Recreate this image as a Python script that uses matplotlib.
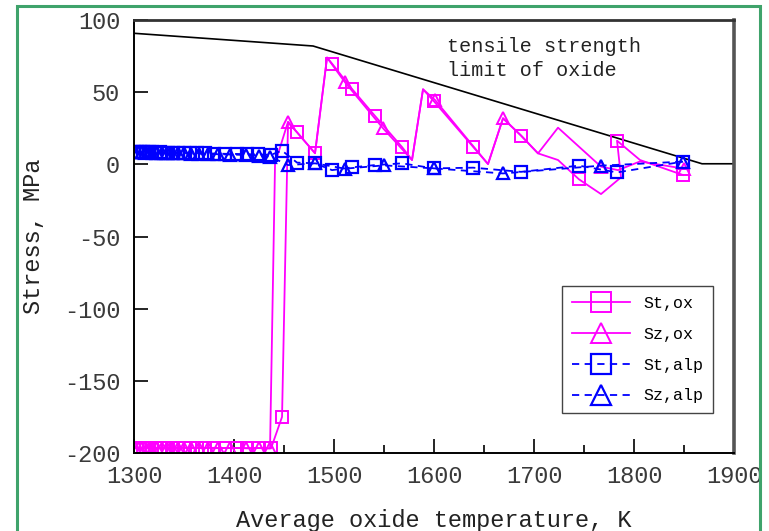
#!/usr/bin/env python
# -*- coding: utf-8 -*-

"""
Stress in the oxide layer vs average oxide temperature
"""

import matplotlib
matplotlib.use('Agg')
import matplotlib.pyplot as plt
from matplotlib.patches import Rectangle
from matplotlib.ticker import MultipleLocator

plt.rcParams['font.family'] = ['Liberation Mono', 'DejaVu Sans Mono']
plt.rcParams['axes.unicode_minus'] = False

# ---- data ----
# tensile strength limit of oxide
limit_T = [1300, 1479, 1868, 1900]
limit_S = [90.8, 82.0, 0.4, 0.4]

# St,ox  (hoop stress in oxide)
st_ox_T = [1300, 1303, 1306, 1309, 1312, 1315, 1318, 1322, 1326, 1330, 1334, 1339,
           1344, 1350, 1356, 1363, 1371, 1380, 1391, 1403, 1413, 1424, 1437,
           1448, 1454, 1463, 1481, 1493, 1498, 1518, 1541, 1568, 1578, 1589, 1600,
           1639, 1654, 1669, 1687, 1704, 1724, 1745, 1767, 1787, 1783, 1806, 1849]
st_ox_S = [-196.3, -196.4, -196.2, -196.5, -196.3, -196.4, -196.2, -196.5, -196.3,
           -196.4, -196.2, -196.5, -196.3, -196.4, -196.6, -196.3, -196.5, -196.4,
           -196.6, -196.5, -196.7, -196.6, -196.8,
           -175.0, 29.0, 22.2, 7.7, 74.0, 69.8, 52.2, 33.5, 12.0, 3.0, 52.0, 43.6,
           12.2, 0.2, 31.9, 19.9, 7.6, 3.0, -10.4, -20.6, -9.0, 16.4, 3.0, -7.4]
st_ox_plain = [1454, 1493, 1578, 1589, 1654, 1669, 1704, 1724, 1767, 1787, 1806]

# Sz,ox  (axial stress in oxide)
sz_ox_T = [1301, 1304, 1308, 1311, 1315, 1319, 1323, 1328, 1333, 1338, 1344, 1350,
           1357, 1365, 1374, 1384, 1396, 1412, 1425, 1436,
           1441, 1454, 1463, 1481, 1493, 1511, 1549, 1578, 1589, 1601, 1654, 1669,
           1687, 1704, 1724, 1767, 1784, 1806, 1850]
sz_ox_S = [-196.5, -196.3, -196.6, -196.4, -196.5, -196.3, -196.6, -196.4, -196.5,
           -196.3, -196.6, -196.4, -196.5, -196.6, -196.4, -196.7, -196.5, -196.7,
           -196.6, -196.8,
           0.5, 29.5, 22.2, 7.7, 74.0, 56.8, 25.0, 3.0, 52.0, 44.6, 0.2, 31.9,
           20.0, 7.6, 25.4, -1.6, -4.0, 2.0, -3.0]
sz_ox_plain = [1441, 1463, 1481, 1493, 1578, 1589, 1654, 1687, 1704, 1724, 1784, 1806]

# St,alp (hoop stress in alpha layer)
st_alp_T = st_ox_T[:23] + [1448, 1463, 1481, 1498, 1518, 1541, 1568, 1600, 1639,
                           1687, 1745, 1783, 1849]
st_alp_S = [8.6, 8.5, 8.6, 8.4, 8.5, 8.3, 8.4, 8.2, 8.3, 8.1, 8.2, 8.0, 7.9, 7.9,
            7.8, 7.7, 7.6, 7.5, 7.3, 7.2, 7.0, 6.9, 6.6,
            9.5, 1.2, 0.7, -4.0, -2.1, -0.5, 0.7, -2.8, -2.3, -5.2, -0.9, -5.6, 1.9]

# Sz,alp (axial stress in alpha layer)
sz_alp_T = sz_ox_T[:20] + [1454, 1481, 1511, 1550, 1600, 1669, 1767, 1849]
sz_alp_S = [8.4, 8.3, 8.4, 8.2, 8.3, 8.1, 8.2, 8.0, 7.9, 7.8, 7.8, 7.7, 7.5, 7.4,
            7.2, 7.0, 6.8, 6.5, 6.0, 5.4,
            -0.5, 0.7, -3.0, -0.7, -2.8, -6.3, -0.9, 1.9]

x_ticks = [1300, 1400, 1500, 1600, 1700, 1800, 1900]
y_ticks = [100, 50, 0, -50, -100, -150, -200]

MAGENTA = '#ff00ff'
BLUE = '#0000ff'


def marked(T, plain):
    """indices of the points that carry a marker"""
    return [i for i, t in enumerate(T) if t not in plain]


fig = plt.figure(figsize=(7.69, 5.31), dpi=100)
ax = fig.add_axes([0.1743, 0.1469, 0.7802, 0.8154])

# green frame round the picture
fig.patches.append(Rectangle((0.022, -0.05), 0.966, 1.038, transform=fig.transFigure,
                             fill=False, edgecolor='#3fa36b', linewidth=2.2, clip_on=False))

ax.plot(limit_T, limit_S, color='black', linewidth=1.2)

ax.plot(st_ox_T, st_ox_S, color=MAGENTA, linewidth=1.3, marker='s', markersize=9,
        markerfacecolor='none', markeredgewidth=1.4,
        markevery=marked(st_ox_T, st_ox_plain), label='St,ox')
ax.plot(sz_ox_T, sz_ox_S, color=MAGENTA, linewidth=1.3, marker='^', markersize=9,
        markerfacecolor='none', markeredgewidth=1.4,
        markevery=marked(sz_ox_T, sz_ox_plain), label='Sz,ox')
ax.plot(st_alp_T, st_alp_S, color=BLUE, linewidth=1.3, linestyle=(0, (4, 3)),
        marker='s', markersize=9, markerfacecolor='none', markeredgewidth=1.6,
        label='St,alp')
ax.plot(sz_alp_T, sz_alp_S, color=BLUE, linewidth=1.3, linestyle=(0, (4, 3)),
        marker='^', markersize=9, markerfacecolor='none', markeredgewidth=1.6,
        label='Sz,alp')

ax.text(1613, 73.5, 'tensile strength\nlimit of oxide', fontsize=14.5, va='center',
        ha='left', linespacing=1.3, color='#222222')

ax.set_xlim(1300, 1900)
ax.set_ylim(-200, 100)
ax.set_xticks(x_ticks)
ax.set_yticks(y_ticks)
ax.xaxis.set_minor_locator(MultipleLocator(50))
ax.tick_params(axis='both', which='both', direction='in', top=False, right=False,
               colors='black', labelcolor='#3a3a3a', labelsize=17)
ax.tick_params(axis='x', which='major', length=10, width=1.2, pad=9)
ax.tick_params(axis='x', which='minor', length=6, width=1.2)
ax.tick_params(axis='y', which='major', length=10, width=1.2, pad=10)

for side in ['left', 'bottom']:
    ax.spines[side].set_linewidth(1.4)
ax.spines['top'].set_linewidth(2.0)
ax.spines['top'].set_color('#333333')
ax.spines['right'].set_linewidth(2.6)
ax.spines['right'].set_color('#555555')

ax.set_xlabel('Average oxide temperature, K', fontsize=17, color='#222222')
ax.xaxis.set_label_coords(0.5, -0.13)
ax.set_ylabel('Stress, MPa', fontsize=17, color='#222222')
ax.yaxis.set_label_coords(-0.148, 0.5)

leg = ax.legend(loc='upper left', bbox_to_anchor=(0.713, 0.386), borderaxespad=0,
                fontsize=12, handlelength=3.5, labelspacing=0.95, markerscale=1.6,
                handletextpad=0.8, borderpad=0.6, fancybox=False, framealpha=1)
leg.get_frame().set_edgecolor('#444444')
leg.get_frame().set_linewidth(1.0)

plt.savefig('out.png', dpi=100)
